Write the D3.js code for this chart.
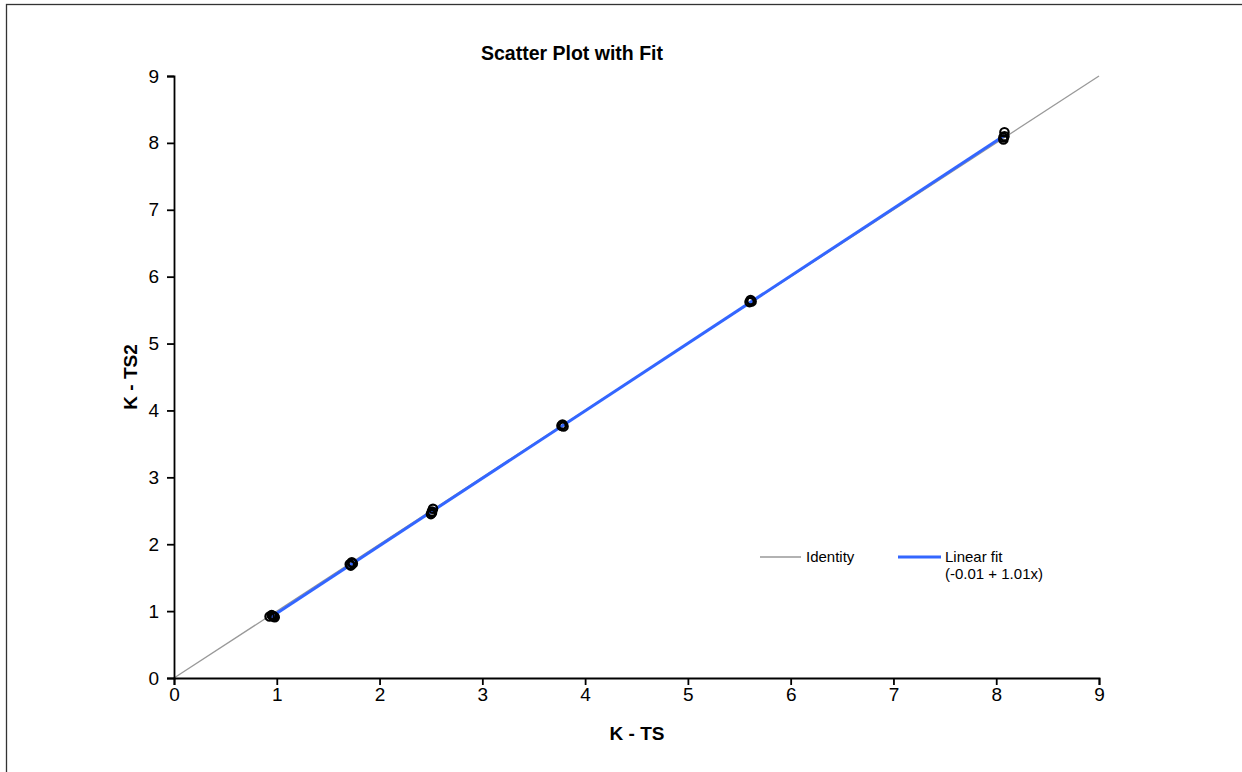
<!DOCTYPE html>
<html>
<head>
<meta charset="utf-8">
<script src="https://cdn.jsdelivr.net/npm/d3@7/dist/d3.min.js"></script>
<style>
  html, body { margin: 0; padding: 0; background: #fff; }
  svg { display: block; font-family: "Liberation Sans", Arial, sans-serif; }
</style>
</head>
<body>
<svg id="chart" width="1242" height="772"></svg>
<script>
const xValues = [0.93, 0.96, 0.98, 0.95, 0.97, 1.71, 1.73, 1.74, 1.72, 2.50, 2.51, 2.52, 2.51, 3.77, 3.79, 3.78, 5.60, 5.61, 5.62, 8.07, 8.08, 8.08, 8.07];
const yValues = [0.92, 0.93, 0.91, 0.94, 0.92, 1.70, 1.73, 1.71, 1.68, 2.45, 2.49, 2.53, 2.47, 3.77, 3.76, 3.79, 5.62, 5.65, 5.63, 8.05, 8.10, 8.16, 8.08];
const tickValues = [0, 1, 2, 3, 4, 5, 6, 7, 8, 9];
const titleText = "Scatter Plot with Fit";
const xLabel = "K - TS";
const yLabel = "K - TS2";
const legendLabels = ["Identity", "Linear fit", "(-0.01 + 1.01x)"];

// least-squares fit of the points
const mx = d3.mean(xValues), my = d3.mean(yValues);
const sxy = d3.sum(xValues, (v, i) => (v - mx) * (yValues[i] - my));
const sxx = d3.sum(xValues, v => (v - mx) * (v - mx));
const fitSlope = sxy / sxx;
const fitIntercept = my - fitSlope * mx;

const svg = d3.select("#chart");
const FONT = "'Liberation Sans', Arial, sans-serif";
const x = d3.scaleLinear().domain([0, 9]).range([174, 1099]);
const y = d3.scaleLinear().domain([0, 9]).range([678, 76]);

// outer border
svg.append("rect").attr("x", 6.5).attr("y", 4.5).attr("width", 1300).attr("height", 900)
  .attr("fill", "none").attr("stroke", "#333").attr("stroke-width", 1.3);

// identity line
svg.append("line")
  .attr("x1", x(0)).attr("y1", y(0)).attr("x2", x(9)).attr("y2", y(9))
  .attr("stroke", "#999").attr("stroke-width", 1.3);

// fit line
const xMin = d3.min(xValues), xMax = d3.max(xValues);
svg.append("line")
  .attr("x1", x(xMin)).attr("y1", y(fitIntercept + fitSlope * xMin))
  .attr("x2", x(xMax)).attr("y2", y(fitIntercept + fitSlope * xMax))
  .attr("stroke", "#3366ff").attr("stroke-width", 3);

// points
svg.append("g").selectAll("circle").data(xValues.map((v, i) => [v, yValues[i]]))
  .join("circle")
  .attr("cx", d => x(d[0])).attr("cy", d => y(d[1])).attr("r", 4.2)
  .attr("fill", "none").attr("stroke", "#000").attr("stroke-width", 2.2);

// axes
const xAxis = svg.append("g").attr("transform", `translate(0,${y(0)})`)
  .call(d3.axisBottom(x).tickValues(tickValues).tickFormat(d3.format("d")).tickSizeOuter(0).tickSize(7).tickPadding(3));
const yAxis = svg.append("g").attr("transform", `translate(${x(0)},0)`)
  .call(d3.axisLeft(y).tickValues(tickValues).tickFormat(d3.format("d")).tickSizeOuter(0).tickSize(7).tickPadding(8));
[xAxis, yAxis].forEach(g => {
  g.attr("font-size", null).attr("font-family", null);
  g.select(".domain").attr("stroke", "#000").attr("stroke-width", 1.8);
  g.selectAll(".tick line").attr("stroke", "#000").attr("stroke-width", 1.8);
  g.selectAll(".tick text").attr("fill", "#000").attr("font-size", 19).attr("font-family", FONT);
});

// title
svg.append("text").attr("x", 572).attr("y", 60).attr("text-anchor", "middle")
  .attr("font-family", FONT).attr("font-size", 19.5).attr("font-weight", "bold").text(titleText);

// axis titles
svg.append("text").attr("x", 637).attr("y", 740).attr("text-anchor", "middle")
  .attr("font-family", FONT).attr("font-size", 19).attr("font-weight", "bold").text(xLabel);
svg.append("text").attr("transform", "translate(137,377) rotate(-90)").attr("text-anchor", "middle")
  .attr("font-family", FONT).attr("font-size", 19).attr("font-weight", "bold").text(yLabel);

// legend
const lg = svg.append("g").attr("font-family", FONT).attr("font-size", 15);
lg.append("line").attr("x1", 760).attr("x2", 801).attr("y1", 557).attr("y2", 557)
  .attr("stroke", "#999").attr("stroke-width", 1.5);
lg.append("text").attr("x", 806).attr("y", 562).text(legendLabels[0]);
lg.append("line").attr("x1", 898).attr("x2", 941).attr("y1", 557).attr("y2", 557)
  .attr("stroke", "#3366ff").attr("stroke-width", 3);
lg.append("text").attr("x", 945).attr("y", 562).text(legendLabels[1]);
lg.append("text").attr("x", 945).attr("y", 579).text(legendLabels[2]);
</script>
</body>
</html>
